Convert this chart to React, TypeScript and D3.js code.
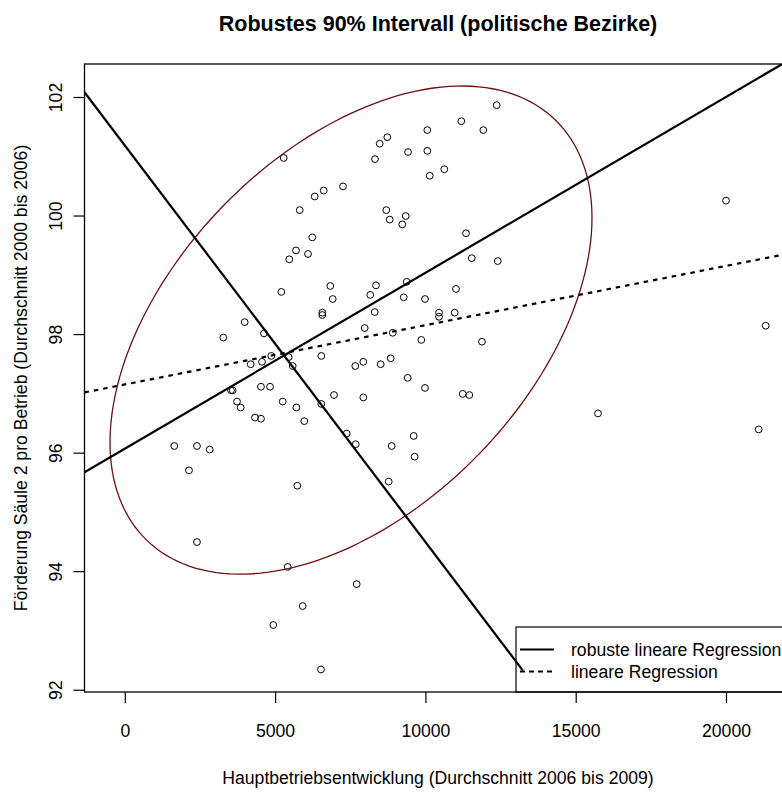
import React from 'react';
import * as d3 from 'd3';

// scatter points: Hauptbetriebsentwicklung vs. Förderung Säule 2
const xs = [
  5270, 8463, 8716, 10047, 9405, 10047, 8307, 10612, 10127, 7242,
  6600, 6301, 5802, 8683, 8796, 9328, 9215, 6221, 5679, 6078,
  5456, 5190, 6820, 6900, 8340, 8150, 9361, 9262, 9970, 12355,
  11178, 11910, 11334, 11524, 12389, 11001, 6554, 6554, 8297, 3972,
  7964, 4614, 8896, 3260, 6520, 4857, 5436, 4172, 4548, 5569,
  7651, 7918, 8496, 8829, 3516, 3573, 4514, 4814, 3716, 3839,
  5236, 5689, 6943, 7918, 6520, 4315, 4514, 5955, 7365, 7665,
  8862, 1630, 2385, 2808, 2119, 5722, 8763, 2385, 10436, 10436,
  10958, 9847, 11866, 21304, 9395, 9970, 11224, 11444, 15725, 21071,
  9594, 9627, 19983, 5403, 7698, 5902, 4924, 6510,
];
const ys = [
  100.98, 101.22, 101.33, 101.45, 101.08, 101.1, 100.96, 100.79, 100.68, 100.5,
  100.43, 100.33, 100.1, 100.1, 99.94, 100.0, 99.86, 99.64, 99.42, 99.36,
  99.27, 98.72, 98.82, 98.6, 98.83, 98.67, 98.89, 98.63, 98.6, 101.87,
  101.6, 101.45, 99.71, 99.29, 99.24, 98.77, 98.37, 98.33, 98.38, 98.21,
  98.11, 98.02, 98.03, 97.95, 97.64, 97.64, 97.62, 97.5, 97.54, 97.47,
  97.47, 97.54, 97.5, 97.6, 97.06, 97.06, 97.12, 97.12, 96.87, 96.77,
  96.87, 96.77, 96.98, 96.94, 96.83, 96.6, 96.58, 96.54, 96.33, 96.15,
  96.12, 96.12, 96.12, 96.06, 95.71, 95.45, 95.52, 94.5, 98.37, 98.3,
  98.37, 97.91, 97.88, 98.15, 97.27, 97.1, 97.0, 96.98, 96.67, 96.4,
  96.29, 95.94, 100.26, 94.08, 93.79, 93.42, 93.1, 92.35,
];

const xTicks = [0, 5000, 10000, 15000, 20000];
const yTicks = [92, 94, 96, 98, 100, 102];
const xLim = [-1357, 22162];
const yLim = [91.97, 102.565];

// fitted lines (intercept, slope)
const robustFit = { a: 96.08, b: 0.0002967 };
const olsFit = { a: 97.16, b: 0.0001 };
const crossFit = { a: 101.18, b: -0.000669, xEnd: 13220 };

// 90% ellipse: centre, spreads, correlation
const ell = { cx: 7508, cy: 98.076, sx: 8017, sy: 4.118, r: 0.46 };

const legendItems = ['robuste lineare Regression', 'lineare Regression'];

const W = 782;
const H = 795;
const m = { left: 84.5, right: 791.5, top: 64, bottom: 692 };
const font = '"Liberation Sans", Arial, Helvetica, sans-serif';

export default function App() {
  const x = d3.scaleLinear().domain(xLim).range([m.left, m.right]);
  const y = d3.scaleLinear().domain(yLim).range([m.bottom, m.top]);

  const ellPts: [number, number][] = d3.range(0, 361, 2).map((deg) => {
    const t = (deg * Math.PI) / 180;
    return [
      ell.cx + ell.sx * Math.cos(t),
      ell.cy + ell.sy * (ell.r * Math.cos(t) + Math.sqrt(1 - ell.r * ell.r) * Math.sin(t)),
    ];
  });
  const ellPath = d3
    .line<[number, number]>()
    .x((d) => x(d[0]))
    .y((d) => y(d[1]))
    .curve(d3.curveLinearClosed)(ellPts);

  const fitLine = (f: { a: number; b: number }, x1: number) => ({
    x1: x(xLim[0]),
    y1: y(f.a + f.b * xLim[0]),
    x2: x(x1),
    y2: y(f.a + f.b * x1),
  });
  const robust = fitLine(robustFit, xLim[1]);
  const ols = fitLine(olsFit, xLim[1]);
  const cross = fitLine(crossFit, crossFit.xEnd);

  const legX = 516;
  const legY = 627;

  return (
    <svg width={W} height={H} style={{ position: 'absolute', left: 0, top: 0 }} fontFamily={font}>
      <rect width={W} height={H} fill="white" />
      <defs>
        <clipPath id="plot">
          <rect x={m.left} y={m.top} width={m.right - m.left} height={m.bottom - m.top} />
        </clipPath>
      </defs>

      <text x={(m.left + m.right) / 2} y={31} textAnchor="middle" fontWeight="bold" fontSize={21.5}>
        Robustes 90% Intervall (politische Bezirke)
      </text>

      {/* points */}
      <g clipPath="url(#plot)">
        {xs.map((v, i) => (
          <circle key={i} cx={x(v)} cy={y(ys[i])} r={3.4} fill="none" stroke="black" strokeWidth={1} />
        ))}
        <path d={ellPath || ''} fill="none" stroke="#6e1010" strokeWidth={1.3} />
      </g>

      {/* legend */}
      <rect x={legX} y={legY} width={m.right - legX} height={m.bottom - legY} fill="white" stroke="black" strokeWidth={1.2} />
      {legendItems.map((label, i) => (
        <g key={label}>
          <line
            x1={520}
            x2={554}
            y1={649.5 + i * 22}
            y2={649.5 + i * 22}
            stroke="black"
            strokeWidth={2.2}
            strokeDasharray={i === 1 ? '5,4' : undefined}
          />
          <text x={571} y={656 + i * 22} fontSize={17.6}>
            {label}
          </text>
        </g>
      ))}

      <g clipPath="url(#plot)" stroke="black" strokeWidth={2.2}>
        <line {...robust} />
        <line {...ols} strokeDasharray="4.5,5" />
        <line {...cross} />
      </g>

      {/* box */}
      <rect x={m.left} y={m.top} width={m.right - m.left} height={m.bottom - m.top} fill="none" stroke="black" strokeWidth={1.3} />

      {/* x axis */}
      {xTicks.map((t) => (
        <g key={t}>
          <line x1={x(t)} x2={x(t)} y1={m.bottom} y2={m.bottom + 11} stroke="black" strokeWidth={1.2} />
          <text x={x(t)} y={737} textAnchor="middle" fontSize={17.6}>
            {t}
          </text>
        </g>
      ))}
      <text x={(m.left + m.right) / 2} y={784} textAnchor="middle" fontSize={17.6}>
        Hauptbetriebsentwicklung (Durchschnitt 2006 bis 2009)
      </text>

      {/* y axis */}
      {yTicks.map((t) => (
        <g key={t}>
          <line x1={m.left} x2={m.left - 11} y1={y(t)} y2={y(t)} stroke="black" strokeWidth={1.2} />
          <text
            x={62}
            y={y(t)}
            textAnchor="middle"
            fontSize={17.6}
            transform={`rotate(-90, 62, ${y(t)})`}
          >
            {t}
          </text>
        </g>
      ))}
      <text
        x={27}
        y={(m.top + m.bottom) / 2}
        textAnchor="middle"
        fontSize={17.6}
        transform={`rotate(-90, 27, ${(m.top + m.bottom) / 2})`}
      >
        Förderung Säule 2 pro Betrieb (Durchschnitt 2000 bis 2006)
      </text>
    </svg>
  );
}
